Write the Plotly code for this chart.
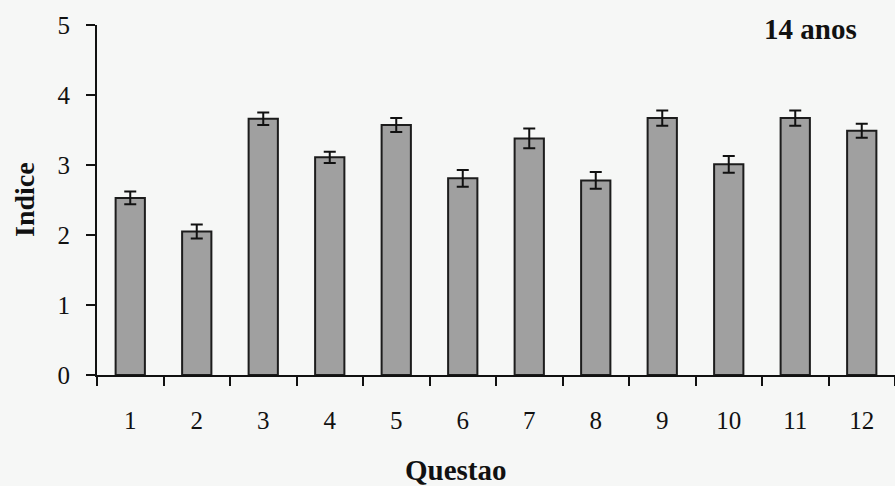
import plotly.graph_objects as go

categories = ["1", "2", "3", "4", "5", "6", "7", "8", "9", "10", "11", "12"]
values = [2.53, 2.05, 3.66, 3.11, 3.57, 2.81, 3.38, 2.78, 3.67, 3.01, 3.67, 3.49]
errors = [0.09, 0.10, 0.09, 0.08, 0.10, 0.12, 0.14, 0.12, 0.11, 0.12, 0.11, 0.10]
y_ticks = [0, 1, 2, 3, 4, 5]

W, H = 895, 486
L, R, T, B = 97, 0, 25, 111
pw = W - L - R
ph = H - T - B

font_family = "Liberation Serif, Times New Roman, serif"
bg = "#f6f7f6"

fig = go.Figure()
fig.add_trace(go.Bar(
    x=categories, y=values,
    width=0.44,
    marker=dict(color="#a0a0a0", line=dict(color="#1c1c1c", width=2)),
    error_y=dict(type="data", array=errors, visible=True,
                 color="#111111", thickness=2, width=6),
))

fig.update_layout(
    width=W, height=H,
    margin=dict(l=L, r=R, t=T, b=B, pad=0),
    paper_bgcolor=bg, plot_bgcolor=bg,
    showlegend=False,
    font=dict(family=font_family, size=25, color="#111111"),
)
fig.update_xaxes(
    type="category", range=[-0.5, 11.5],
    showline=True, linecolor="#111111", linewidth=2,
    ticks="outside", tickson="boundaries", ticklen=9, tickwidth=2, tickcolor="#111111",
    showgrid=False, zeroline=False,
    tickfont=dict(family=font_family, size=25, color="#111111"),
    ticklabelstandoff=22,
)
fig.update_yaxes(
    range=[0, 5], tickvals=y_ticks,
    showline=True, linecolor="#111111", linewidth=2,
    ticks="outside", ticklen=9, tickwidth=2, tickcolor="#111111",
    showgrid=False, zeroline=False,
    tickfont=dict(family=font_family, size=25, color="#111111"),
    ticklabelstandoff=11,
)

fig.add_annotation(text="<b>Indice</b>", xref="paper", yref="paper",
                   x=(24 - L) / pw, y=0.5, textangle=-90, showarrow=False,
                   xanchor="center", yanchor="middle",
                   font=dict(family=font_family, size=28, color="#111111"))
fig.add_annotation(text="<b>Questao</b>", xref="paper", yref="paper",
                   x=(456 - L) / pw, y=-(470 - (T + ph)) / ph, showarrow=False,
                   xanchor="center", yanchor="middle",
                   font=dict(family=font_family, size=29, color="#111111"))
fig.add_annotation(text="<b>14 anos</b>", xref="paper", yref="paper",
                   x=(810 - L) / pw, y=1 - (29 - T) / ph, showarrow=False,
                   xanchor="center", yanchor="middle",
                   font=dict(family=font_family, size=29, color="#111111"))

fig.write_html("out.html")
